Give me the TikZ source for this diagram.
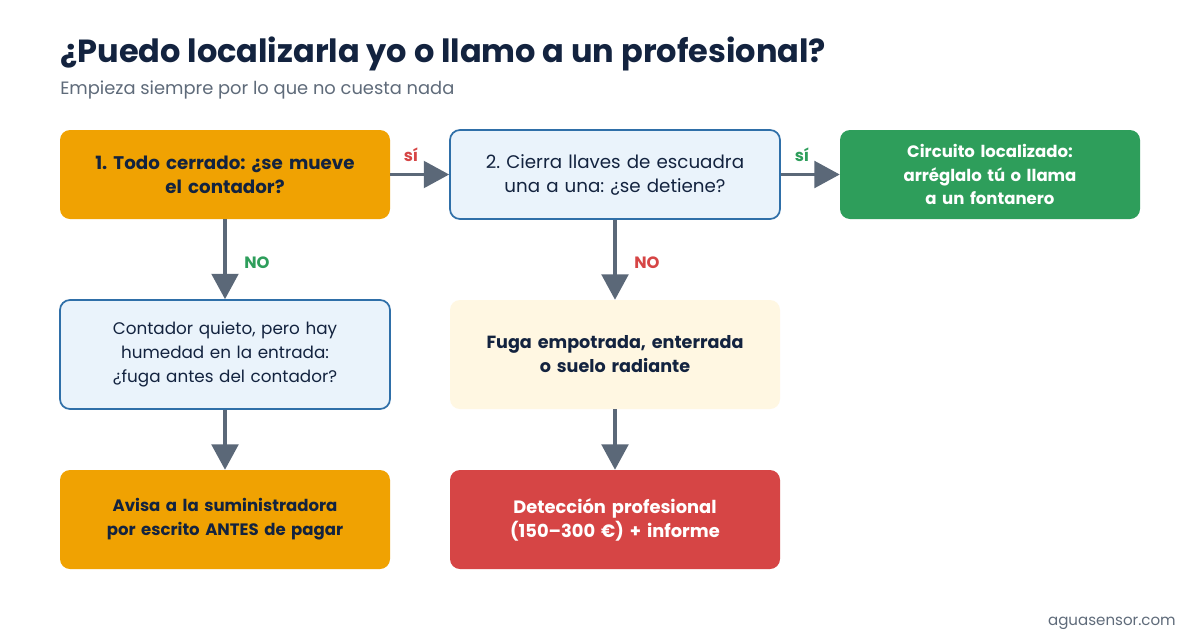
\documentclass[tikz,border=0pt]{standalone}
\usepackage{fontspec}
\setmainfont{Poppins}
\usetikzlibrary{arrows.meta, positioning}
\frenchspacing

\definecolor{navy}{HTML}{13233F}
\definecolor{subgray}{HTML}{5F6B7A}
\definecolor{arrowgray}{HTML}{5B6878}
\definecolor{amber}{HTML}{F0A202}
\definecolor{paleblue}{HTML}{EAF3FB}
\definecolor{edgeblue}{HTML}{2F6FA8}
\definecolor{leafgreen}{HTML}{2E9E5B}
\definecolor{cream}{HTML}{FFF7E2}
\definecolor{alertred}{HTML}{D64545}

\tikzset{
    box/.style={rounded corners=7.5pt, minimum width=247.5pt, align=center,
        text width=235pt, font=\fontsize{13.7}{18}\selectfont, text=navy},
    warnbox/.style={box, fill=amber, font=\fontsize{13.7}{18}\selectfont\bfseries},
    askbox/.style={box, fill=paleblue, draw=edgeblue, line width=1.3pt},
    notebox/.style={box, fill=cream, font=\fontsize{13.2}{18}\selectfont\bfseries},
    okbox/.style={box, fill=leafgreen, text=white, font=\fontsize{12.4}{17.5}\selectfont\bfseries},
    badbox/.style={box, fill=alertred, text=white, font=\fontsize{13.4}{18}\selectfont\bfseries},
    flow/.style={draw=arrowgray, line width=2.4pt,
        -{Triangle[length=19pt, width=20pt, fill=arrowgray]}},
    yes/.style={font=\fontsize{12.3}{14}\selectfont\bfseries},
}

\begin{document}
\begin{tikzpicture}[x=0.75pt, y=-0.75pt]
    \useasboundingbox[fill=white] (0,0) rectangle (1200,640);

    \node[anchor=base west, inner sep=0pt, text=navy, font=\fontsize{24}{28}\selectfont\bfseries] (title) at (60,62) {¿Puedo localizarla yo o llamo a un profesional?};
    \node[anchor=base west, inner sep=0pt, text=subgray, font=\fontsize{13.4}{16}\selectfont] (subtitle) at (60,94) {Empieza siempre por lo que no cuesta nada};

    \node[warnbox, minimum height=66.75pt] (q1) at (225,174.5) {1. Todo cerrado: ¿se mueve\\el contador?};
    \node[askbox, minimum height=66.75pt] (q2) at (615,174.5) {2. Cierra llaves de escuadra\\una a una: ¿se detiene?};
    \node[okbox, minimum height=66.75pt, minimum width=225pt, text width=210pt] (fix) at (990,174.5) {Circuito localizado:\\arréglalo tú o llama\\a un fontanero};

    \node[askbox, minimum height=81.75pt, font=\fontsize{12.6}{18}\selectfont] (q3) at (225,354.5) {Contador quieto, pero hay\\humedad en la entrada:\\¿fuga antes del contador?};
    \node[notebox, minimum height=81.75pt] (hidden) at (615,354.5) {Fuga empotrada, enterrada\\o suelo radiante};

    \node[warnbox, minimum height=74.25pt, font=\fontsize{12.4}{18}\selectfont\bfseries] (warn) at (225,519.5) {Avisa a la suministradora\\por escrito ANTES de pagar};
    \node[badbox, minimum height=74.25pt] (pro) at (615,519.5) {Detección profesional\\(150–300 €) + informe};

    \draw[flow] (q1) -- (q2);
    \draw[flow] (q2) -- (fix);
    \draw[flow] (q1) -- (q3);
    \draw[flow] (q3) -- (warn);
    \draw[flow] (q2) -- (hidden);
    \draw[flow] (hidden) -- (pro);

    \node[yes, text=alertred] (yes1) at (411,155) {sí};
    \node[yes, text=leafgreen] (yes2) at (802,155) {sí};
    \node[yes, text=leafgreen] (no1) at (257,263) {NO};
    \node[yes, text=alertred] (no2) at (647,263) {NO};

    \node[anchor=base east, inner sep=0pt, text=subgray, font=\fontsize{11.3}{13}\selectfont] (site) at (1176,625) {aguasensor.com};
\end{tikzpicture}
\end{document}
